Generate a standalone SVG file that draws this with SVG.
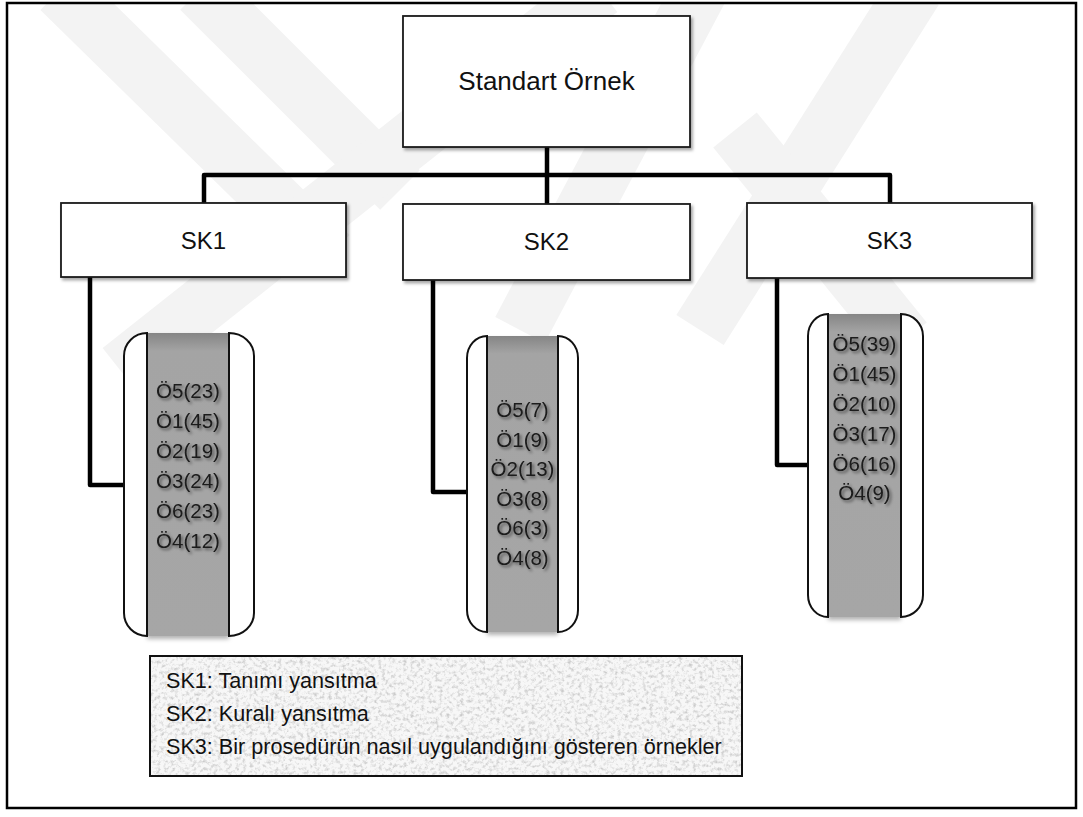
<svg xmlns="http://www.w3.org/2000/svg" width="1083" height="817" viewBox="0 0 1083 817">
  <defs>
    <style>
      .box { fill: #ffffff; stroke: #1a1a1a; stroke-width: 1.8; filter: url(#boxShadow); }
      .title { font-family: "Liberation Sans", Arial, sans-serif; font-size: 26px; fill: #111; text-anchor: middle; }
      .sk { font-family: "Liberation Sans", Arial, sans-serif; font-size: 24px; fill: #111; text-anchor: middle; }
      .link { fill: none; stroke: #000; stroke-width: 4.5; stroke-linejoin: round; }
      .panel { fill: #ffffff; stroke: #111; stroke-width: 2; }
      .band { fill: url(#bandFill); }
      .item { font-family: "Liberation Sans", Arial, sans-serif; font-size: 20.5px; fill: #1a1a1a; text-anchor: middle; filter: url(#textGlow); }
      .legend-text { font-family: "Liberation Sans", Arial, sans-serif; font-size: 21.6px; fill: #111; }
      .mark { fill: none; stroke: #f3f3f3; stroke-width: 56; stroke-linecap: butt; }
    </style>
    <filter id="boxShadow" x="-10%" y="-10%" width="125%" height="130%">
      <feDropShadow dx="2" dy="2.5" stdDeviation="1.5" flood-color="#000" flood-opacity="0.35"/>
    </filter>
    <filter id="textGlow" x="-20%" y="-40%" width="140%" height="180%">
      <feGaussianBlur in="SourceAlpha" stdDeviation="1.7" result="b"/>
      <feOffset in="b" dx="1.5" dy="2" result="o"/>
      <feFlood flood-color="#000" flood-opacity="0.5"/>
      <feComposite in2="o" operator="in" result="s"/>
      <feMerge><feMergeNode in="s"/><feMergeNode in="SourceGraphic"/></feMerge>
    </filter>
    <filter id="bandShadow" x="-20%" y="-5%" width="140%" height="110%">
      <feDropShadow dx="0" dy="3" stdDeviation="2" flood-color="#000" flood-opacity="0.3"/>
    </filter>
    <linearGradient id="bandFill" x1="0" y1="0" x2="0" y2="1">
      <stop offset="0" stop-color="#858585"/>
      <stop offset="0.06" stop-color="#a4a4a4"/>
      <stop offset="1" stop-color="#a6a6a6"/>
    </linearGradient>
    <!-- granite-like speckle for the legend panel -->
    <filter id="grain" x="0" y="0" width="100%" height="100%">
      <feTurbulence type="fractalNoise" baseFrequency="0.28" numOctaves="3" seed="11" result="n"/>
      <feColorMatrix in="n" type="matrix" values="0 0 0 0 0.6  0 0 0 0 0.6  0 0 0 0 0.6  2.6 0 0 0 -1.2" result="spots"/>
      <feComposite in="spots" in2="SourceGraphic" operator="in"/>
    </filter>
    <clipPath id="frameClip"><rect x="8" y="4" width="1067" height="803"/></clipPath>
  </defs>

  <rect x="0" y="0" width="1083" height="817" fill="#ffffff"/>

  <!-- faint background watermark bands -->
  <g id="watermark" clip-path="url(#frameClip)">
    <line class="mark" x1="60" y1="-10" x2="330" y2="255"/>
    <line class="mark" x1="200" y1="-10" x2="400" y2="190"/>
    <line class="mark" x1="120" y1="370" x2="600" y2="-10"/>
    <line class="mark" x1="700" y1="-10" x2="520" y2="330"/>
    <line class="mark" x1="915" y1="-10" x2="700" y2="330"/>
    <line class="mark" x1="735" y1="130" x2="905" y2="340"/>
  </g>

  <!-- outer frame -->
  <rect x="7" y="3" width="1069" height="805" fill="none" stroke="#000" stroke-width="2.5"/>

  <!-- connectors -->
  <g id="connectors">
    <path class="link" d="M547 147 V204"/>
    <path class="link" d="M204 204 V175 H890 V204"/>
    <path class="link" d="M90 277 V485 H125"/>
    <path class="link" d="M433 280 V492 H468"/>
    <path class="link" d="M777 278 V465 H809"/>
  </g>

  <!-- top node -->
  <g id="node-root">
    <rect class="box" x="403" y="16" width="287" height="131"/>
    <text class="title" x="546.5" y="90">Standart Örnek</text>
  </g>

  <!-- category nodes -->
  <g id="node-sk1">
    <rect class="box" x="61" y="203" width="285" height="74"/>
    <text class="sk" x="203.5" y="249">SK1</text>
  </g>
  <g id="node-sk2">
    <rect class="box" x="403" y="204" width="287" height="76"/>
    <text class="sk" x="546.5" y="250">SK2</text>
  </g>
  <g id="node-sk3">
    <rect class="box" x="747" y="203" width="285" height="75"/>
    <text class="sk" x="889.5" y="249">SK3</text>
  </g>

  <!-- scroll lists -->
  <g id="node-list1">
    <rect class="band" x="147" y="333" width="82" height="303" filter="url(#bandShadow)"/>
    <path class="panel" d="M147 333 A23 23 0 0 0 124 356 V613 A23 23 0 0 0 147 636 Z"/>
    <path class="panel" d="M229 333 A25 23 0 0 1 254 356 V613 A25 23 0 0 1 229 636 Z"/>
    <text class="item" x="188" y="398">Ö5(23)</text>
    <text class="item" x="188" y="428">Ö1(45)</text>
    <text class="item" x="188" y="458">Ö2(19)</text>
    <text class="item" x="188" y="488">Ö3(24)</text>
    <text class="item" x="188" y="518">Ö6(23)</text>
    <text class="item" x="188" y="548">Ö4(12)</text>
  </g>
  <g id="node-list2">
    <rect class="band" x="487" y="336" width="71" height="296" filter="url(#bandShadow)"/>
    <path class="panel" d="M487 336 A20 22 0 0 0 467 358 V610 A20 22 0 0 0 487 632 Z"/>
    <path class="panel" d="M558 336 A20 22 0 0 1 578 358 V610 A20 22 0 0 1 558 632 Z"/>
    <text class="item" x="522.5" y="417">Ö5(7)</text>
    <text class="item" x="522.5" y="446.5">Ö1(9)</text>
    <text class="item" x="522.5" y="476">Ö2(13)</text>
    <text class="item" x="522.5" y="505.5">Ö3(8)</text>
    <text class="item" x="522.5" y="535">Ö6(3)</text>
    <text class="item" x="522.5" y="564.5">Ö4(8)</text>
  </g>
  <g id="node-list3">
    <rect class="band" x="828" y="314" width="73" height="303" filter="url(#bandShadow)"/>
    <path class="panel" d="M828 314 A20 22 0 0 0 808 336 V595 A20 22 0 0 0 828 617 Z"/>
    <path class="panel" d="M901 314 A22 22 0 0 1 923 336 V595 A22 22 0 0 1 901 617 Z"/>
    <text class="item" x="864.5" y="351">Ö5(39)</text>
    <text class="item" x="864.5" y="381">Ö1(45)</text>
    <text class="item" x="864.5" y="411">Ö2(10)</text>
    <text class="item" x="864.5" y="441">Ö3(17)</text>
    <text class="item" x="864.5" y="471">Ö6(16)</text>
    <text class="item" x="864.5" y="500">Ö4(9)</text>
  </g>

  <!-- legend -->
  <g id="legend">
    <rect x="150" y="656" width="592" height="120" fill="#f7f7f7"/>
    <rect x="150" y="656" width="592" height="120" fill="#000" filter="url(#grain)"/>
    <rect x="150" y="656" width="592" height="120" fill="none" stroke="#111" stroke-width="2"/>
    <text class="legend-text" x="166" y="688">SK1: Tanımı yansıtma</text>
    <text class="legend-text" x="166" y="721">SK2: Kuralı yansıtma</text>
    <text class="legend-text" x="166" y="754">SK3: Bir prosedürün nasıl uygulandığını gösteren örnekler</text>
  </g>
</svg>
